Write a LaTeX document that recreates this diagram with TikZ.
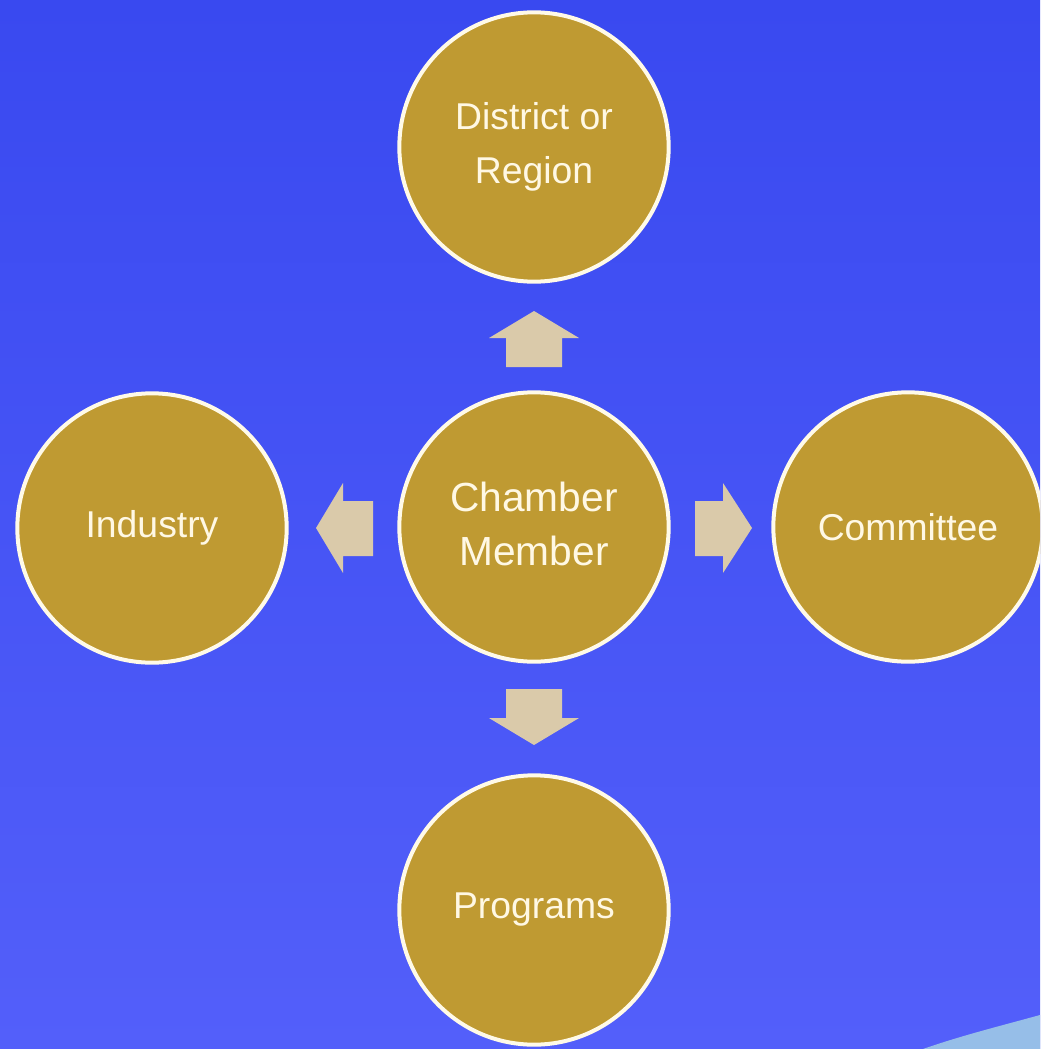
\documentclass[tikz,border=0pt]{standalone}
\usepackage{fontspec}
\setmainfont{Liberation Sans}
\usepackage{xcolor}
\usepackage{tikz}

\definecolor{bgtop}{RGB}{57,73,240}
\definecolor{bgbottom}{RGB}{83,95,250}
\definecolor{swoosh}{RGB}{150,190,232}
\definecolor{gold}{RGB}{191,154,50}
\definecolor{rim}{RGB}{255,250,232}
\definecolor{sand}{RGB}{218,202,170}
\definecolor{cream}{RGB}{255,248,228}

\tikzset{
  hub/.style={circle, draw=rim, line width=3pt, fill=gold, minimum size=202pt,
    inner sep=0pt, text=cream, align=center, font=\fontsize{28}{41}\selectfont},
  blockarrow/.style={fill=sand, draw=none}
}

\begin{document}
\begin{tikzpicture}[x=0.75pt,y=0.75pt,yscale=-1,xscale=1]
        \useasboundingbox (0,0) rectangle (1040,1049);
        \clip (0,0) rectangle (1040,1049);
        \shade [top color=bgtop, bottom color=bgbottom] (0,0) rectangle (1040,1049);
        \fill [swoosh] (923,1049) .. controls (960,1036) and (1000,1026) .. (1040,1015) -- (1040,1049) -- cycle;
        % circles
        \node [hub] (member) at (534,527) {};
        \node [hub] (district) at (534,147) {District or\\Region};
        \node [hub] (industry) at (152,528) {Industry};
        \node [hub] (committee) at (908,527) {Committee};
        \node [hub] (programs) at (534,910) {Programs};
        \node [text=cream, align=center, font=\fontsize{30.5}{40}\selectfont] (memberlabel) at (534,524) {Chamber\\Member};
        % block arrows
        \draw [blockarrow] (534,311) -- (579,338) -- (562,338) -- (562,367) -- (506,367) -- (506,338) -- (489,338) -- cycle;
        \draw [blockarrow] (534,745) -- (579,718) -- (562,718) -- (562,689) -- (506,689) -- (506,718) -- (489,718) -- cycle;
        \draw [blockarrow] (316,528) -- (343,483) -- (343,501) -- (373,501) -- (373,556) -- (343,556) -- (343,573) -- cycle;
        \draw [blockarrow] (752,528) -- (723,483) -- (723,501) -- (695,501) -- (695,556) -- (723,556) -- (723,573) -- cycle;
\end{tikzpicture}
\end{document}
